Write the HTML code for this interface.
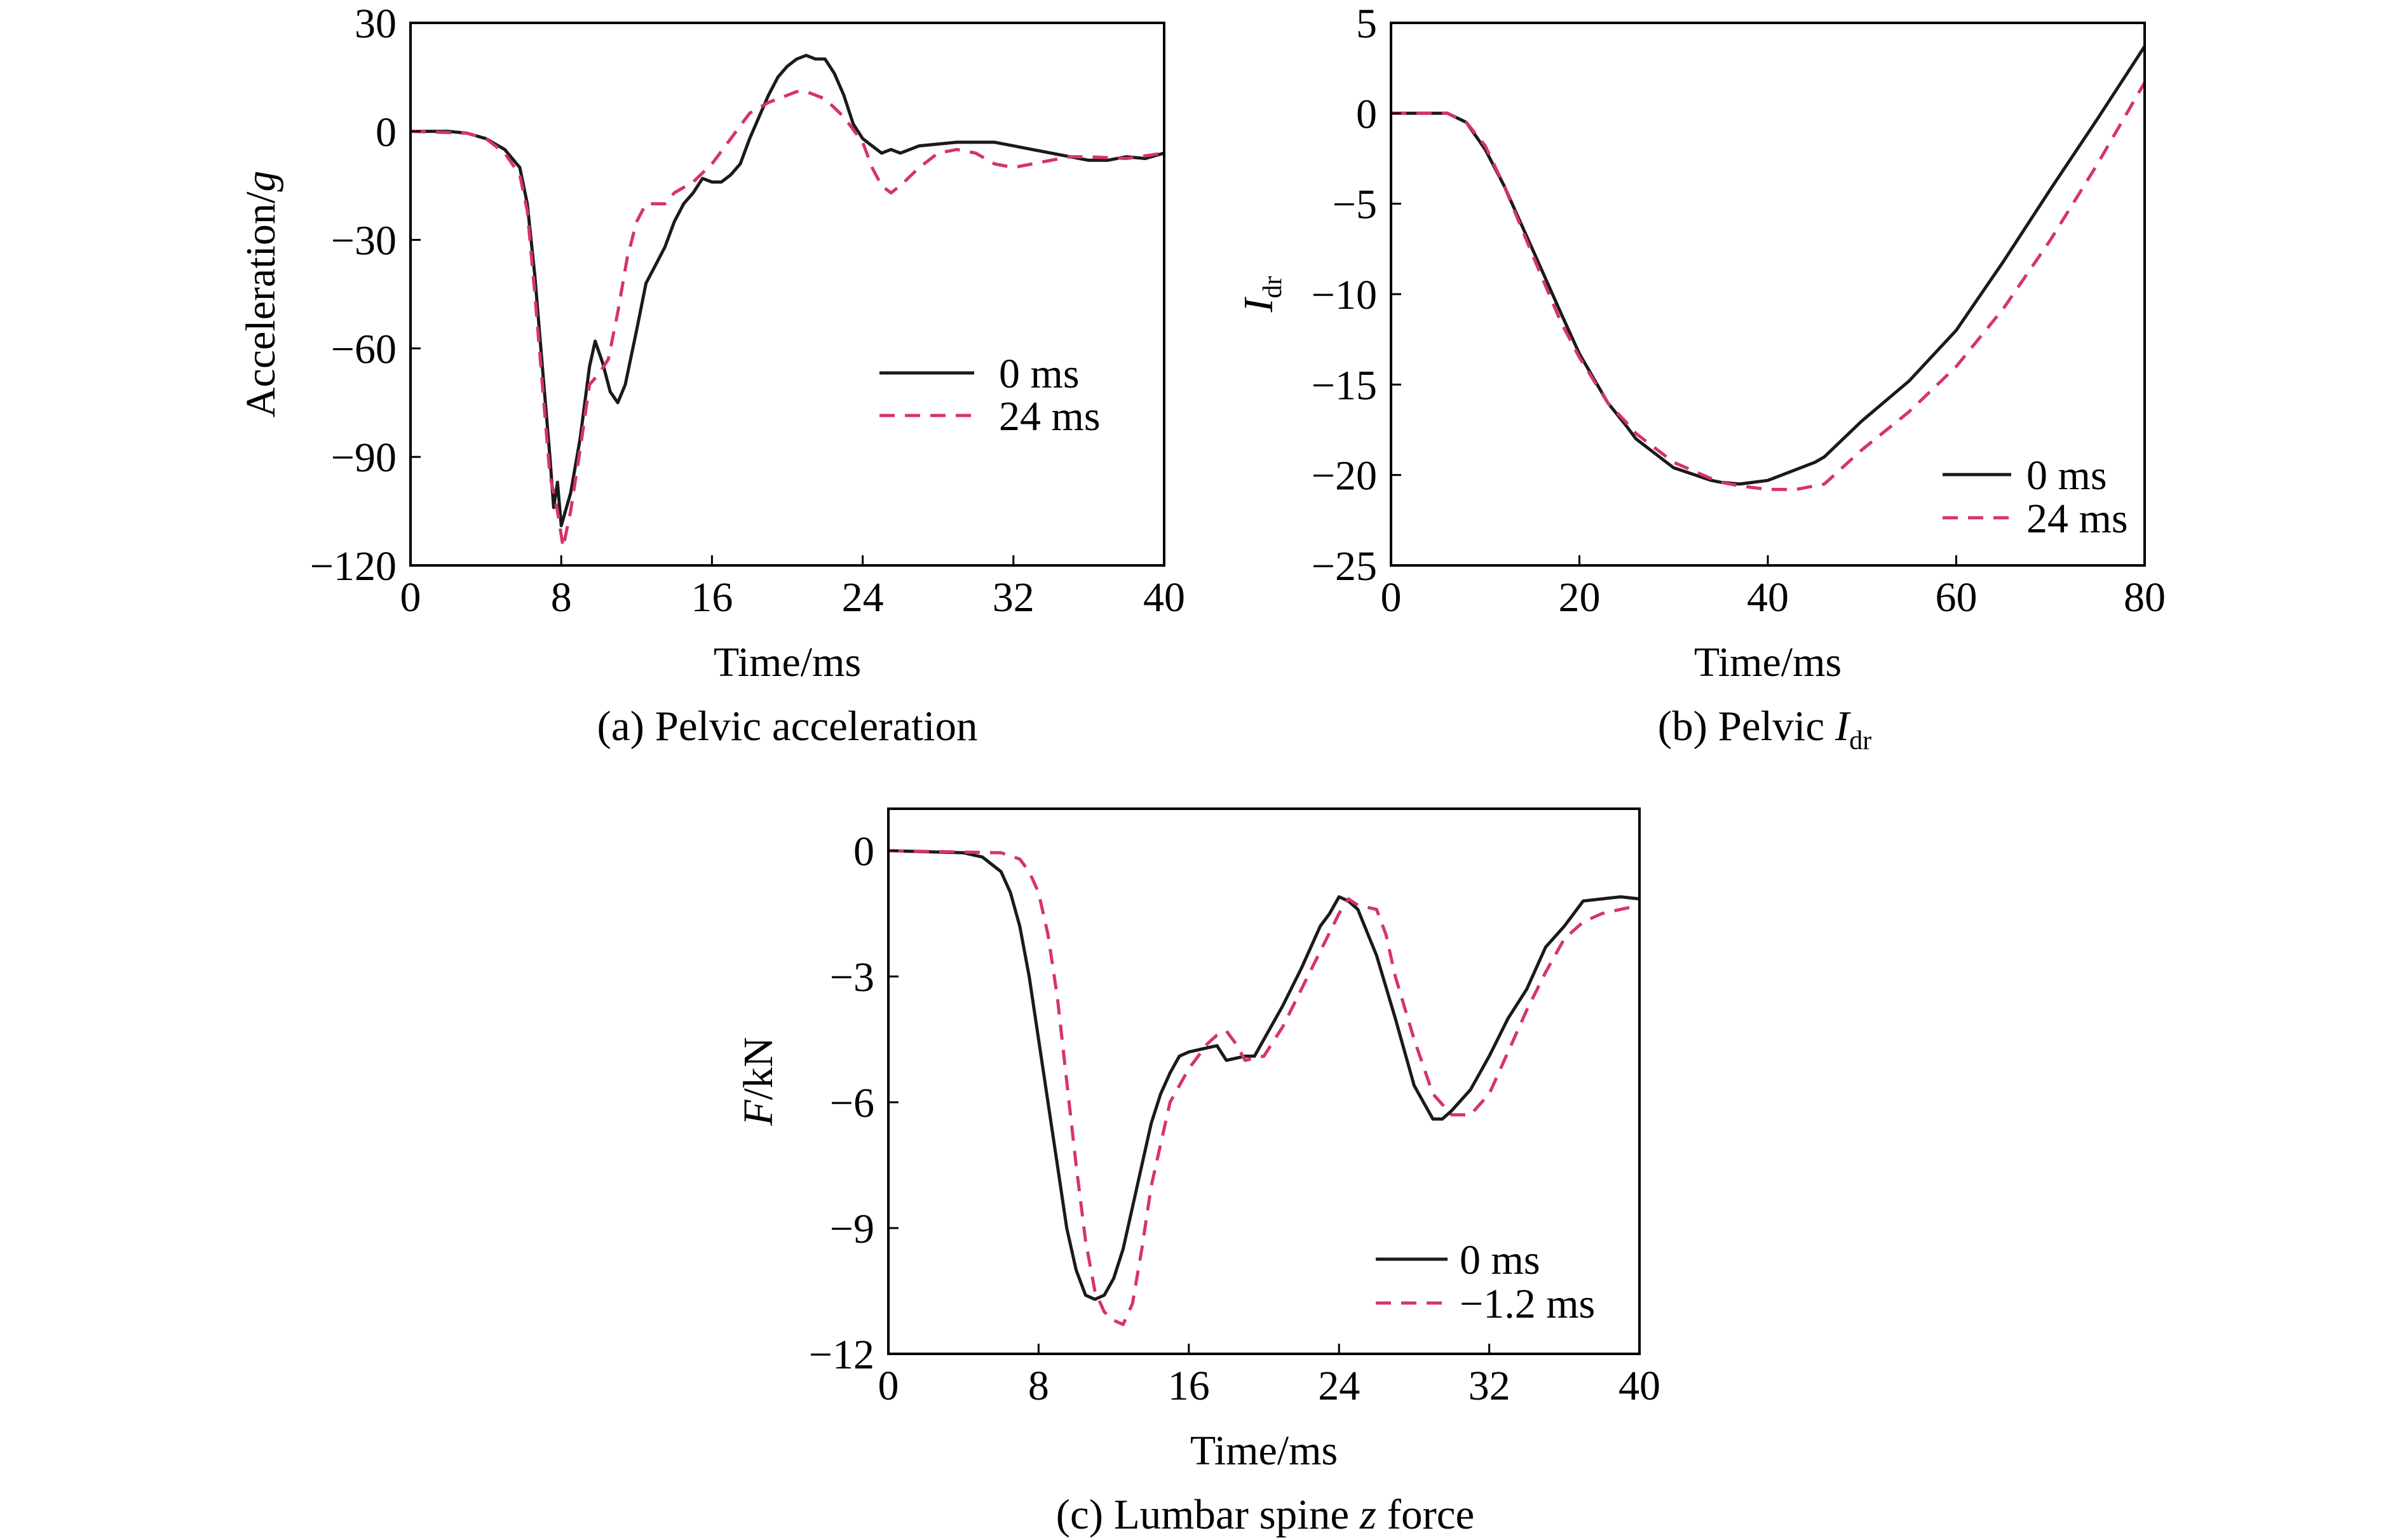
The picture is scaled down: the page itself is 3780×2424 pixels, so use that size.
<!DOCTYPE html>
<html><head><meta charset="utf-8">
<style>
html,body{margin:0;padding:0;background:#fff;}
svg{display:block;font-family:"Liberation Serif",serif;}
</style></head>
<body>
<svg id="fig" width="3780" height="2424" viewBox="0 0 3780 2424" xmlns="http://www.w3.org/2000/svg"></svg>
<script>
// ---- Panel (a) data: pelvic acceleration (g) ----
const aTime0 = [0,2,3,4,5,5.8,6.2,6.6,7,7.4,7.6,7.8,8,8.5,9,9.5,9.8,10.2,10.6,11,11.4,12,12.5,13,13.5,14,14.5,15,15.5,16,16.5,17,17.5,18,18.5,19,19.5,20,20.5,21,21.5,22,22.5,23,23.5,24,24.5,25,25.5,26,26.5,27,28,29,30,31,32,33,34,35,36,37,38,39,40];
const aVal0 = [0,0,-0.5,-2,-5,-10,-20,-40,-65,-90,-104,-97,-109,-100,-85,-65,-58,-64,-72,-75,-70,-55,-42,-37,-32,-25,-20,-17,-13,-14,-14,-12,-9,-2,4,10,15,18,20,21,20,20,16,10,2,-2,-4,-6,-5,-6,-5,-4,-3.5,-3,-3,-3,-4,-5,-6,-7,-8,-8,-7,-7.5,-6];
const aTime24 = [0,3,4,5,5.8,6.2,6.6,7,7.4,7.8,8.1,8.5,9,9.5,10,10.5,11,11.5,12,12.5,13,13.5,14,15,16,17,18,19,20,20.5,21,22,23,24,24.5,25,25.5,26,27,28,29,30,31,32,33,34,35,36,38,40];
const aVal24 = [0,-0.5,-2,-6,-12,-22,-45,-70,-95,-105,-115,-105,-88,-70,-67,-63,-50,-35,-25,-20,-20,-20,-17,-14,-9,-2,5,8,10,11,11,9,4,-3,-10,-15,-17,-15,-10,-6,-5,-6,-9,-10,-9,-8,-7,-7,-7.5,-6];
const aXTicks = [0,8,16,24,32,40];
const aYTicks = [30,0,-30,-60,-90,-120];
// ---- Panel (b) data: pelvic Idr ----
const bTime = [0,6,8,10,12,15,18,20,23,25,26,30,34,35,37,40,43,45,46,50,55,60,65,70,75,80];
const bVal0 = [0,0,-0.5,-2,-4,-7.5,-11,-13.3,-16,-17.3,-18,-19.6,-20.3,-20.4,-20.5,-20.3,-19.7,-19.3,-19,-17,-14.8,-12,-8.2,-4.2,-0.3,3.7];
const bVal24 = [0,0,-0.5,-1.8,-4,-7.8,-11.5,-13.5,-16,-17.1,-17.7,-19.3,-20.2,-20.4,-20.6,-20.8,-20.8,-20.6,-20.5,-18.6,-16.5,-14,-10.8,-7,-2.8,1.7];
const bXTicks = [0,20,40,60,80];
const bYTicks = [5,0,-5,-10,-15,-20,-25];
// ---- Panel (c) data: lumbar spine z force (kN) ----
const cTime0 = [0,4,5,6,6.5,7,7.5,8,8.5,9,9.5,10,10.5,11,11.5,12,12.5,13,13.5,14,14.5,15,15.5,16,17,17.5,18,19,19.5,20,21,22,23,23.5,24,24.5,25,26,27,28,29,29.5,30,31,32,33,34,35,36,37,38,39,40];
const cVal0 = [0,-0.05,-0.15,-0.5,-1,-1.8,-3,-4.5,-6,-7.5,-9,-10,-10.6,-10.7,-10.6,-10.2,-9.5,-8.5,-7.5,-6.5,-5.8,-5.3,-4.9,-4.8,-4.7,-4.65,-5.0,-4.9,-4.9,-4.5,-3.7,-2.8,-1.8,-1.5,-1.1,-1.2,-1.4,-2.5,-4,-5.6,-6.4,-6.4,-6.2,-5.7,-4.9,-4.0,-3.3,-2.3,-1.8,-1.2,-1.15,-1.1,-1.15];
const cTime12 = [0,6,7,7.5,8,8.5,9,9.5,10,10.5,11,11.5,12,12.5,13,13.5,14,14.5,15,16,17,17.5,18,18.5,19,20,21,22,23,24,24.5,25,26,26.5,27,28,29,30,31,32,33,34,35,36,37,38,40];
const cVal12 = [0,-0.05,-0.2,-0.5,-1,-2,-3.5,-5.5,-7.5,-9.3,-10.5,-11,-11.2,-11.3,-10.8,-9.5,-8,-7,-6,-5.2,-4.6,-4.4,-4.3,-4.6,-5,-4.9,-4.2,-3.3,-2.4,-1.5,-1.15,-1.3,-1.4,-2,-3,-4.5,-5.8,-6.3,-6.3,-5.8,-4.8,-3.8,-2.9,-2.1,-1.7,-1.5,-1.3];
const cXTicks = [0,8,16,24,32,40];
const cYTicks = [0,-3,-6,-9,-12];

const NS='http://www.w3.org/2000/svg';
const svg=document.getElementById('fig');
const FS=66;
function mk(tag,attrs,parent,text){const e=document.createElementNS(NS,tag);for(const k in attrs)e.setAttribute(k,attrs[k]);if(text!==undefined)e.textContent=text;(parent||svg).appendChild(e);return e;}
function fmt(v){return v<0?'\u2212'+Math.abs(v):String(v);}

function panel(p){
  const g=mk('g',{});
  
  
  const sx=v=>p.x0+(v-p.xmin)/(p.xmax-p.xmin)*(p.x1-p.x0);
  const sy=v=>p.y1-(v-p.ymin)/(p.ymax-p.ymin)*(p.y1-p.y0);
  p.series.forEach(s=>{
    let d='';s.t.forEach((t,i)=>{d+=(i?'L':'M')+sx(t).toFixed(1)+','+sy(s.v[i]).toFixed(1);});
    const path=mk('path',{d:d,fill:'none',stroke:s.color,'stroke-width':5,'stroke-linejoin':'round','stroke-dasharray':s.dash||'none'},g);
    
    
  });
  const fr=mk('rect',{x:p.x0,y:p.y0,width:p.x1-p.x0,height:p.y1-p.y0,fill:'none',stroke:'#000','stroke-width':4},g);
  
  
  p.xt.forEach(v=>{
    const x=sx(v);
    if(v!==p.xmin&&v!==p.xmax){const tk=mk('line',{x1:x,x2:x,y1:p.y1,y2:p.y1-16,stroke:'#000','stroke-width':3},g);}
    const t=mk('text',{x:x,y:p.y1+72,'font-size':FS,'text-anchor':'middle'},g,fmt(v));
    
    
  });
  p.yt.forEach(v=>{
    const y=sy(v);
    if(v!==p.ymin&&v!==p.ymax){const tk=mk('line',{x1:p.x0,x2:p.x0+16,y1:y,y2:y,stroke:'#000','stroke-width':3},g);}
    const t=mk('text',{x:p.x0-22,y:y+23,'font-size':FS,'text-anchor':'end'},g,fmt(v));
    
    
  });
  const xt=mk('text',{x:(p.x0+p.x1)/2,y:p.y1+174,'font-size':FS,'text-anchor':'middle'},g,'Time/ms');
  
  
  p.series.forEach((s,i)=>{
    const y=p.leg.y+i*p.leg.dy;
    const l=mk('line',{x1:p.leg.x1,x2:p.leg.x2,y1:y,y2:y,stroke:s.color,'stroke-width':5,'stroke-dasharray':s.dash||'none'},g);
    
    
    const t=mk('text',{x:p.leg.tx,y:y+23,'font-size':FS},g,s.label);
    
    
  });
  return g;
}
const BLK='#1a1a1a', RED='#d6336c', DASH='24 16';
panel({name:'panel-a',x0:646,x1:1832,y0:36,y1:890,xmin:0,xmax:40,ymin:-120,ymax:30,xt:aXTicks,yt:aYTicks,
  series:[{t:aTime0,v:aVal0,color:BLK,label:'0 ms',dname:'series-0ms'},{t:aTime24,v:aVal24,color:RED,dash:DASH,label:'24 ms',dname:'series-24ms'}],
  leg:{x1:1384,x2:1533,tx:1572,y:587,dy:67}});
panel({name:'panel-b',x0:2189,x1:3375,y0:36,y1:890,xmin:0,xmax:80,ymin:-25,ymax:5,xt:bXTicks,yt:bYTicks,
  series:[{t:bTime,v:bVal0,color:BLK,label:'0 ms',dname:'series-0ms'},{t:bTime,v:bVal24,color:RED,dash:DASH,label:'24 ms',dname:'series-24ms'}],
  leg:{x1:3057,x2:3165,tx:3189,y:747,dy:68}});
panel({name:'panel-c',x0:1398,x1:2580,y0:1273,y1:2131,xmin:0,xmax:40,ymin:-12,ymax:1,xt:cXTicks,yt:cYTicks,
  series:[{t:cTime0,v:cVal0,color:BLK,label:'0 ms',dname:'series-0ms'},{t:cTime12,v:cVal12,color:RED,dash:DASH,label:'\u22121.2 ms',dname:'series-minus-1.2ms'}],
  leg:{x1:2165,x2:2278,tx:2297,y:1982,dy:69}});
</script>
<script>
(function(){
  const NS='http://www.w3.org/2000/svg';const svg=document.getElementById('fig');
  function add(html){const g=document.createElementNS(NS,'g');g.innerHTML=html;svg.appendChild(g);}
  add('<text transform="translate(432,463) rotate(-90)" font-size="66" text-anchor="middle">Acceleration/<tspan font-style="italic">g</tspan></text>'+
      '<text transform="translate(2002,463) rotate(-90)" font-size="66" text-anchor="middle"><tspan font-style="italic">I</tspan><tspan font-size="42" dy="14">dr</tspan></text>'+
      '<text transform="translate(1215,1702) rotate(-90)" font-size="66" text-anchor="middle"><tspan font-style="italic">F</tspan>/kN</text>'+
      '<text x="1239" y="1165" font-size="67" text-anchor="middle">(a) Pelvic acceleration</text>'+
      '<text x="2777" y="1165" font-size="67" text-anchor="middle">(b) Pelvic <tspan font-style="italic">I</tspan><tspan font-size="42" dy="14">dr</tspan></text>'+
      '<text x="1991" y="2406" font-size="67" text-anchor="middle">(c) Lumbar spine <tspan font-style="italic">z</tspan> force</text>');
})();
</script>
</body></html>
